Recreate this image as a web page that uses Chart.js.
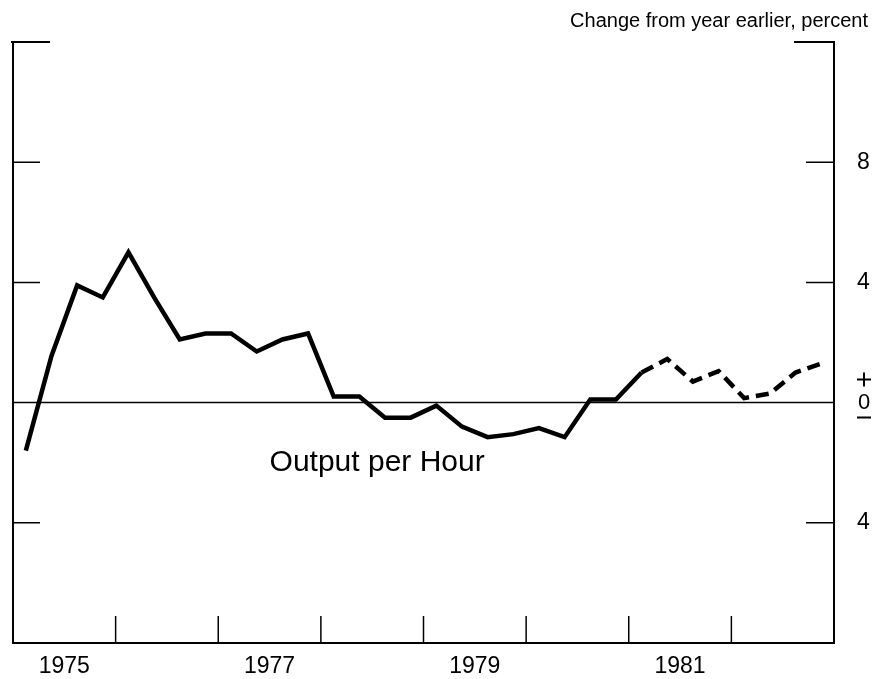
<!DOCTYPE html>
<html>
<head>
<meta charset="utf-8">
<title>Output per Hour</title>
<script src="https://cdn.jsdelivr.net/npm/chart.js@4/dist/chart.umd.min.js"></script>
<style>
  html, body { margin: 0; padding: 0; background: #fff; }
  #wrap { width: 876px; height: 679px; }
</style>
</head>
<body>
<div id="wrap"><canvas id="chart" width="876" height="679"></canvas></div>
<script>
// quarterly change from year earlier, percent
const years = [1975, 1976, 1977, 1978, 1979, 1980, 1981, 1982];
const outputPerHour = [
    -1.6, 1.55, 3.9, 3.5,
    5.0, 3.5, 2.1, 2.3,
    2.3, 1.7, 2.1, 2.3,
    0.2, 0.2, -0.5, -0.5,
    -0.1, -0.8, -1.15, -1.05,
    -0.85, -1.15, 0.1, 0.1,
    1.0, 1.45, 0.7, 1.05,
    0.15, 0.3, 1.0, 1.3
];
const projectedFrom = 24;          // first point of the dashed segment
const yearLabels = [1975, 1977, 1979, 1981];
const yTicks = [8, 4, -4];
const yearTicks = [1976, 1977, 1978, 1979, 1980, 1981, 1982];

const FONT = '"Liberation Sans", Arial, Helvetica, sans-serif';

// each quarter sits in the middle of its quarter-year slot
const points = outputPerHour.map((v, i) => ({
    x: years[Math.floor(i / 4)] + ((i % 4) + 0.5) / 4,
    y: v
}));

// frame, inward ticks and the annotations
const framePlugin = {
    id: 'frame',
    beforeDatasetsDraw(chart) {
        const { ctx, chartArea: a, scales: { x, y } } = chart;
        ctx.save();
        ctx.strokeStyle = '#000';
        ctx.lineCap = 'butt';

        // zero line
        ctx.lineWidth = 1.5;
        ctx.beginPath();
        ctx.moveTo(a.left, y.getPixelForValue(0));
        ctx.lineTo(a.right, y.getPixelForValue(0));
        ctx.stroke();

        ctx.lineWidth = 2;
        // left axis
        ctx.beginPath();
        ctx.moveTo(a.left, a.top);
        ctx.lineTo(a.left, a.bottom);
        ctx.stroke();

        // corner ticks at the top
        ctx.beginPath();
        ctx.moveTo(a.left - 2, a.top);
        ctx.lineTo(a.left + 37, a.top);
        ctx.moveTo(a.right + 1, a.top);
        ctx.lineTo(a.right - 40, a.top);
        ctx.stroke();

        // value ticks on both sides
        ctx.lineWidth = 1.5;
        yTicks.forEach(v => {
            const py = y.getPixelForValue(v);
            ctx.beginPath();
            ctx.moveTo(a.left, py);
            ctx.lineTo(a.left + 27, py);
            ctx.moveTo(a.right, py);
            ctx.lineTo(a.right - 28, py);
            ctx.stroke();
        });

        // year ticks on the bottom
        yearTicks.forEach(t => {
            const px = x.getPixelForValue(t);
            ctx.beginPath();
            ctx.moveTo(px, a.bottom);
            ctx.lineTo(px, a.bottom - 27);
            ctx.stroke();
        });

        // + 0 - marker
        const zx = a.right + 30;
        const zy = y.getPixelForValue(0);
        ctx.fillStyle = '#000';
        ctx.font = '22px ' + FONT;
        ctx.textAlign = 'center';
        ctx.textBaseline = 'middle';
        ctx.fillText('0', zx, zy);
        ctx.lineWidth = 2;
        ctx.beginPath();
        ctx.moveTo(zx - 7, zy - 23);
        ctx.lineTo(zx + 7, zy - 23);
        ctx.moveTo(zx, zy - 30);
        ctx.lineTo(zx, zy - 16);
        ctx.moveTo(zx - 7, zy + 15);
        ctx.lineTo(zx + 7, zy + 15);
        ctx.stroke();

        // units note
        ctx.font = '20px ' + FONT;
        ctx.textAlign = 'right';
        ctx.fillText('Change from year earlier, percent', 868, 21);

        // series name
        ctx.font = '30px ' + FONT;
        ctx.textAlign = 'left';
        ctx.fillText('Output per Hour', x.getPixelForValue(1977.5), y.getPixelForValue(-2));

        ctx.restore();
    }
};

new Chart(document.getElementById('chart'), {
    type: 'line',
    data: {
        datasets: [{
            data: points,
            borderColor: '#000',
            borderWidth: 4.5,
            borderJoinStyle: 'miter',
            pointRadius: 0,
            tension: 0,
            segment: {
                borderDash: ctx => ctx.p0DataIndex >= projectedFrom ? [13, 7] : undefined
            }
        }]
    },
    options: {
        responsive: false,
        animation: false,
        layout: { padding: { top: 42, left: 13, right: 0, bottom: 0 } },
        plugins: {
            legend: { display: false },
            tooltip: { enabled: false }
        },
        scales: {
            x: {
                type: 'linear',
                min: 1975,
                max: 1983,
                afterBuildTicks: s => { s.ticks = yearLabels.map(v => ({ value: v + 0.5 })); },
                afterFit: s => { s.height = 36; },
                grid: { display: false },
                border: { display: true, color: '#000', width: 2 },
                ticks: {
                    color: '#000',
                    font: { family: FONT, size: 23 },
                    padding: 2,
                    maxRotation: 0,
                    callback: v => String(Math.floor(v))
                }
            },
            y: {
                position: 'right',
                min: -8,
                max: 12,
                afterBuildTicks: s => { s.ticks = yTicks.map(v => ({ value: v })); },
                afterFit: s => { s.width = 42; },
                grid: { display: false },
                border: { display: true, color: '#000', width: 2 },
                ticks: {
                    color: '#000',
                    font: { family: FONT, size: 23 },
                    padding: 15,
                    callback: v => String(Math.abs(v))
                }
            }
        }
    },
    plugins: [framePlugin]
});
</script>
</body>
</html>
